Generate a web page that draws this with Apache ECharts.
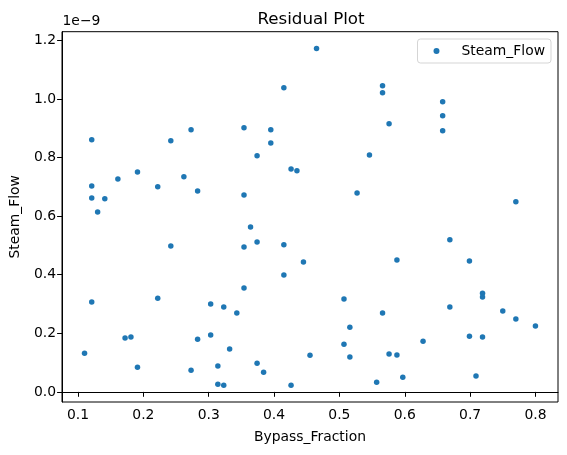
<!DOCTYPE html>
<html>
<head>
<meta charset="utf-8">
<script src="https://cdn.jsdelivr.net/npm/echarts@6/dist/echarts.min.js"></script>
<style>html,body{margin:0;padding:0;background:#fff}#c{width:567px;height:455px}</style>
</head>
<body>
<div id="c"></div>
<script>
// Bypass_Fraction values (x)
const bypassFraction = [
  0.121, 0.242, 0.273, 0.191, 0.161, 0.262, 0.121, 0.222, 0.283, 0.121, 0.141, 0.130,
  0.465, 0.415, 0.566, 0.566, 0.576, 0.354, 0.395, 0.395, 0.374, 0.546, 0.426, 0.435, 0.354, 0.527,
  0.658, 0.658, 0.658, 0.770,
  0.242, 0.121, 0.222, 0.303, 0.323, 0.172, 0.181, 0.283, 0.303, 0.332, 0.110, 0.191, 0.273, 0.314, 0.314, 0.323,
  0.364, 0.374, 0.354, 0.415, 0.445, 0.415, 0.354, 0.343, 0.507, 0.566, 0.516, 0.507, 0.516, 0.455, 0.374, 0.384, 0.426, 0.557, 0.576,
  0.669, 0.588, 0.699, 0.719, 0.719, 0.669, 0.750, 0.770, 0.800, 0.628, 0.699, 0.719, 0.588, 0.597, 0.709
];
// Steam_Flow residuals (in units of 1e-9)
const steamFlow = [
  0.861, 0.857, 0.895, 0.751, 0.727, 0.734, 0.703, 0.700, 0.686, 0.662, 0.659, 0.614,
  1.172, 1.038, 1.045, 1.021, 0.915, 0.902, 0.895, 0.850, 0.806, 0.809, 0.761, 0.755, 0.672, 0.679,
  0.990, 0.943, 0.891, 0.649,
  0.498, 0.307, 0.320, 0.300, 0.290, 0.184, 0.187, 0.180, 0.194, 0.146, 0.132, 0.084, 0.074, 0.088, 0.026, 0.023,
  0.563, 0.512, 0.495, 0.502, 0.443, 0.399, 0.355, 0.269, 0.317, 0.269, 0.221, 0.163, 0.119, 0.125, 0.098, 0.067, 0.023, 0.033, 0.129,
  0.519, 0.450, 0.447, 0.337, 0.324, 0.290, 0.276, 0.249, 0.225, 0.173, 0.190, 0.187, 0.126, 0.050, 0.054
];
const xTicks = [0.1, 0.2, 0.3, 0.4, 0.5, 0.6, 0.7, 0.8];
const yTicks = [0.0, 0.2, 0.4, 0.6, 0.8, 1.0, 1.2];

const points = bypassFraction.map((x, i) => [x, steamFlow[i]]);
const FONT = 'DejaVu Sans';
const chart = echarts.init(document.getElementById('c'), null, {renderer: 'canvas'});
chart.setOption({
  animation: false,
  backgroundColor: '#fff',
  textStyle: {fontFamily: FONT},
  title: {
    text: 'Residual Plot', left: 306, top: 6, textAlign: 'center',
    textStyle: {fontFamily: FONT, fontSize: 16.7, fontWeight: 'normal', color: '#000'}
  },
  legend: {
    right: 16, top: 39,
    data: [{name: 'Steam_Flow', icon: 'circle'}],
    itemWidth: 6, itemHeight: 6,
    padding: [5, 6, 5, 16],
    borderColor: '#d5d5d5', borderWidth: 1, borderRadius: 3,
    textStyle: {fontFamily: FONT, fontSize: 13.9, color: '#000', padding: [0, 0, 0, 17]}
  },
  grid: {left: 61.5, right: 9, top: 31.7, bottom: 53, show: true, borderColor: '#000', borderWidth: 1, containLabel: false},
  graphic: [{type: 'text', left: 62.5, top: 14, style: {text: '1e\u22129', font: '13.9px "DejaVu Sans"', fill: '#000'}}],
  xAxis: {
    type: 'value', min: 0.0755, max: 0.8345,
    name: 'Bypass_Fraction', nameLocation: 'middle', nameGap: 28,
    nameTextStyle: {fontFamily: FONT, fontSize: 13.9, color: '#000'},
    axisLine: {show: true, lineStyle: {color: '#000'}},
    axisTick: {show: true, length: 4.9, customValues: xTicks, lineStyle: {color: '#000'}},
    axisLabel: {customValues: xTicks, margin: 6, fontFamily: FONT, fontSize: 13.9, color: '#000', formatter: v => v.toFixed(1)},
    splitLine: {show: false}
  },
  yAxis: {
    type: 'value', min: -0.0345, max: 1.2295,
    name: 'Steam_Flow', nameLocation: 'middle', nameGap: 40,
    nameTextStyle: {fontFamily: FONT, fontSize: 13.9, color: '#000'},
    axisLine: {show: true, lineStyle: {color: '#000'}},
    axisTick: {show: true, length: 4.9, customValues: yTicks, lineStyle: {color: '#000'}},
    axisLabel: {customValues: yTicks, margin: 6, fontFamily: FONT, fontSize: 13.9, color: '#000', formatter: v => v.toFixed(1)},
    splitLine: {show: false}
  },
  series: [{
    name: 'Steam_Flow', type: 'scatter', data: points,
    symbol: 'circle', symbolSize: 5.5,
    itemStyle: {color: '#1f77b4', opacity: 1}
  }]
});
</script>
</body>
</html>
